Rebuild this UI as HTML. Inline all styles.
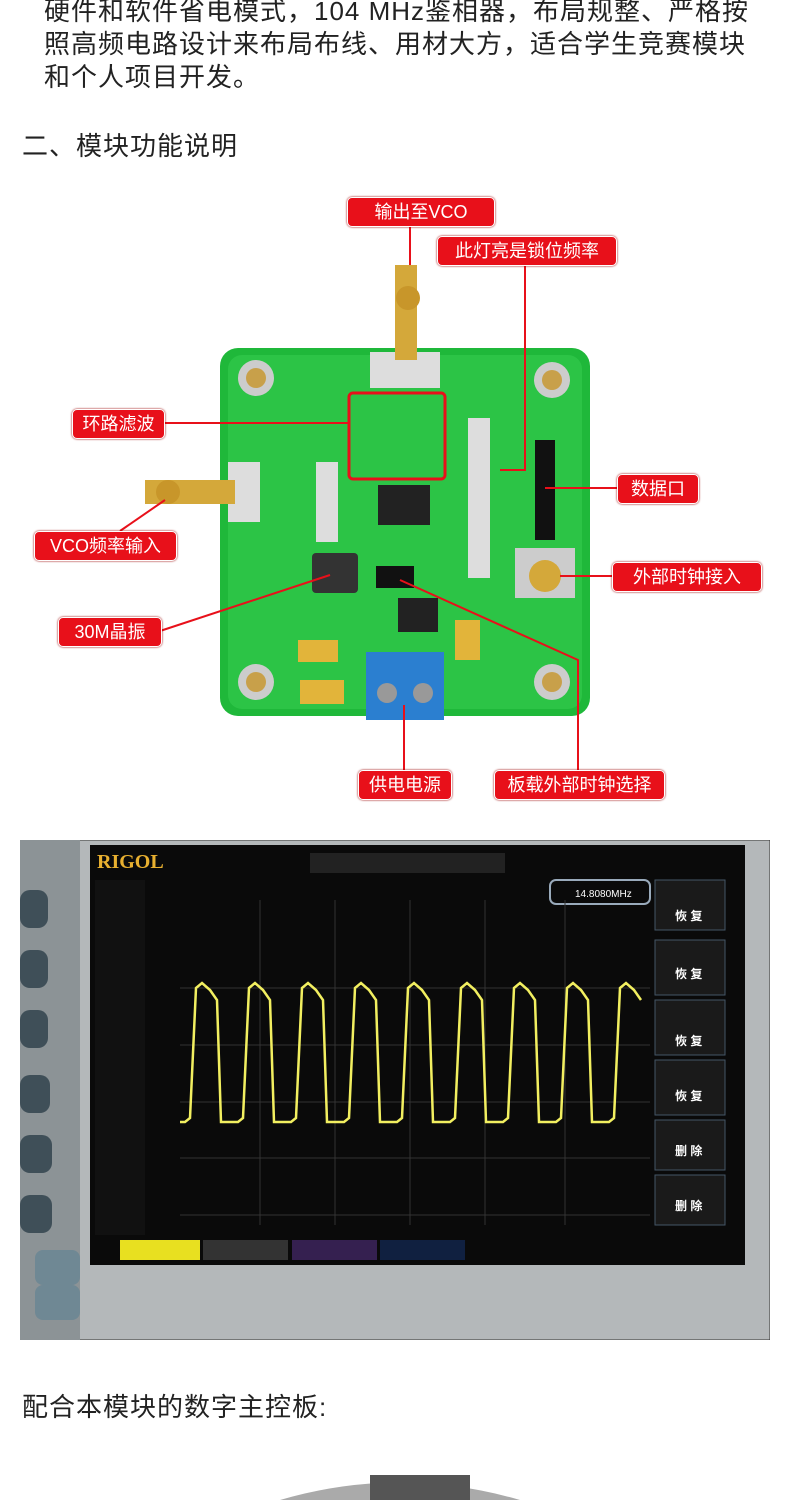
<!DOCTYPE html>
<html><head><meta charset="utf-8"><style>
body{margin:0;width:790px;height:1500px;background:#fff;overflow:hidden;position:relative;font-family:"Liberation Sans","Noto Sans CJK SC",sans-serif;}
.t{position:absolute;font-size:26px;color:#222;white-space:nowrap;letter-spacing:1px}
.lb{position:absolute;background:#e8101a;color:#fff;font-size:18px;border-radius:5px;text-align:center;line-height:28px;height:28px;border:1px solid #fff;box-shadow:0 0 2px #900}
</style></head><body>
<div class="t" style="left:44px;top:-9px">硬件和软件省电模式，104 MHz鉴相器，布局规整、严格按</div>
<div class="t" style="left:44px;top:24px">照高频电路设计来布局布线、用材大方，适合学生竞赛模块</div>
<div class="t" style="left:44px;top:57px">和个人项目开发。</div>
<div class="t" style="left:22px;top:126px">二、模块功能说明</div>

<svg style="position:absolute;left:0;top:180px" width="790" height="640">
<g transform="translate(0,-180)">
<rect x="220" y="348" width="370" height="368" rx="18" fill="#1fb83a"/>
<rect x="228" y="355" width="354" height="354" rx="14" fill="#2cc446"/>
<circle cx="256" cy="378" r="18" fill="#ccc"/><circle cx="256" cy="378" r="10" fill="#c8a04a"/>
<circle cx="552" cy="380" r="18" fill="#ccc"/><circle cx="552" cy="380" r="10" fill="#c8a04a"/>
<circle cx="256" cy="682" r="18" fill="#ccc"/><circle cx="256" cy="682" r="10" fill="#c8a04a"/>
<circle cx="552" cy="682" r="18" fill="#ccc"/><circle cx="552" cy="682" r="10" fill="#c8a04a"/>
<rect x="370" y="352" width="70" height="36" fill="#ddd"/>
<rect x="395" y="265" width="22" height="95" fill="#d4a83a"/>
<circle cx="408" cy="298" r="12" fill="#c8962a"/>
<rect x="228" y="462" width="32" height="60" fill="#ddd"/>
<rect x="145" y="480" width="90" height="24" fill="#d4a83a"/>
<circle cx="168" cy="492" r="12" fill="#c8962a"/>
<rect x="515" y="548" width="60" height="50" fill="#ccc"/>
<circle cx="545" cy="576" r="16" fill="#d4a83a"/>
<rect x="378" y="485" width="52" height="40" fill="#222"/>
<rect x="312" y="553" width="46" height="40" rx="4" fill="#333"/>
<rect x="376" y="566" width="38" height="22" fill="#111"/>
<rect x="398" y="598" width="40" height="34" fill="#222"/>
<rect x="366" y="652" width="78" height="68" fill="#2b7fd0"/>
<circle cx="387" cy="693" r="10" fill="#999"/><circle cx="423" cy="693" r="10" fill="#999"/>
<rect x="298" y="640" width="40" height="22" fill="#e2b43a"/>
<rect x="300" y="680" width="44" height="24" fill="#e2b43a"/>
<rect x="455" y="620" width="25" height="40" fill="#e2b43a"/>
<rect x="535" y="440" width="20" height="100" fill="#111"/>
<g fill="#ddd"><rect x="316" y="462" width="22" height="80"/><rect x="468" y="418" width="22" height="160"/></g>
<rect x="349" y="393" width="96" height="86" rx="4" fill="none" stroke="#e8101a" stroke-width="3"/>
<g stroke="#e8101a" stroke-width="2" fill="none">
<line x1="410" y1="225" x2="410" y2="265"/>
<polyline points="525,264 525,470 500,470"/>
<line x1="163" y1="423" x2="349" y2="423"/>
<line x1="617" y1="488" x2="545" y2="488"/>
<line x1="120" y1="531" x2="165" y2="500"/>
<line x1="612" y1="576" x2="560" y2="576"/>
<line x1="160" y1="631" x2="330" y2="575"/>
<line x1="404" y1="770" x2="404" y2="705"/>
<polyline points="578,770 578,660 400,580"/>
</g>
</g></svg>
<div class="lb" style="left:347px;top:197px;width:146px">输出至VCO</div>
<div class="lb" style="left:437px;top:236px;width:178px">此灯亮是锁位频率</div>
<div class="lb" style="left:72px;top:409px;width:91px">环路滤波</div>
<div class="lb" style="left:617px;top:474px;width:80px">数据口</div>
<div class="lb" style="left:34px;top:531px;width:141px">VCO频率输入</div>
<div class="lb" style="left:612px;top:562px;width:148px">外部时钟接入</div>
<div class="lb" style="left:58px;top:617px;width:102px">30M晶振</div>
<div class="lb" style="left:358px;top:770px;width:92px">供电电源</div>
<div class="lb" style="left:494px;top:770px;width:169px">板载外部时钟选择</div>

<svg style="position:absolute;left:20px;top:840px" width="750" height="500">
<rect width="750" height="500" fill="#b4b8ba" stroke="#333"/>
<rect x="0" y="0" width="60" height="500" fill="#8c9396"/>
<g fill="#3f4f58"><rect x="0" y="50" width="28" height="38" rx="10"/><rect x="0" y="110" width="28" height="38" rx="10"/><rect x="0" y="170" width="28" height="38" rx="10"/><rect x="0" y="235" width="30" height="38" rx="10"/><rect x="0" y="295" width="32" height="38" rx="10"/><rect x="0" y="355" width="32" height="38" rx="10"/></g>
<rect x="15" y="410" width="45" height="35" rx="8" fill="#6f8894"/><rect x="15" y="445" width="45" height="35" rx="8" fill="#6f8894"/>
<rect x="70" y="5" width="655" height="420" fill="#0a0a0a"/>
<text x="77" y="28" font-family="Liberation Serif" font-weight="bold" font-size="20" fill="#e8b030">RIGOL</text>
<rect x="290" y="13" width="195" height="20" fill="#222"/>
<rect x="530" y="40" width="100" height="24" rx="6" fill="none" stroke="#9ab" stroke-width="2"/>
<text x="555" y="57" font-size="10" fill="#fff">14.8080MHz</text>
<g stroke="#333" stroke-width="1">
<line x1="160" y1="148" x2="630" y2="148"/><line x1="160" y1="205" x2="630" y2="205"/><line x1="160" y1="262" x2="630" y2="262"/><line x1="160" y1="318" x2="630" y2="318"/><line x1="160" y1="375" x2="630" y2="375"/>
<line x1="240" y1="60" x2="240" y2="385"/><line x1="315" y1="60" x2="315" y2="385"/><line x1="390" y1="60" x2="390" y2="385"/><line x1="465" y1="60" x2="465" y2="385"/><line x1="545" y1="60" x2="545" y2="385"/>
</g>
<path fill="none" stroke="#f2ef60" stroke-width="2.5" d="M160,282 L165,282 L170,278 L176,148 L182,143 L190,150 L197,160 L201,282 L205,282 L218,282 L223,278 L229,148 L235,143 L243,150 L250,160 L254,282 L271,282 L276,278 L282,148 L288,143 L296,150 L303,160 L307,282 L324,282 L329,278 L335,148 L341,143 L349,150 L356,160 L360,282 L377,282 L382,278 L388,148 L394,143 L402,150 L409,160 L413,282 L430,282 L435,278 L441,148 L447,143 L455,150 L462,160 L466,282 L483,282 L488,278 L494,148 L500,143 L508,150 L515,160 L519,282 L536,282 L541,278 L547,148 L553,143 L561,150 L568,160 L572,282 L589,282 L594,278 L600,148 L606,143 L614,150 L621,160"/>
<rect x="75" y="40" width="50" height="355" fill="#111"/>
<g fill="#1a1a1a" stroke="#456"><rect x="635" y="40" width="70" height="50"/><rect x="635" y="100" width="70" height="55"/><rect x="635" y="160" width="70" height="55"/><rect x="635" y="220" width="70" height="55"/><rect x="635" y="280" width="70" height="50"/><rect x="635" y="335" width="70" height="50"/></g>
<g fill="#fff" font-size="12" font-weight="bold"><text x="655" y="80">恢 复</text><text x="655" y="138">恢 复</text><text x="655" y="205">恢 复</text><text x="655" y="260">恢 复</text><text x="655" y="315">删 除</text><text x="655" y="370">删 除</text></g>
<rect x="100" y="400" width="80" height="20" fill="#e8e020"/><rect x="183" y="400" width="85" height="20" fill="#333"/><rect x="272" y="400" width="85" height="20" fill="#352050"/><rect x="360" y="400" width="85" height="20" fill="#102040"/>
</svg>

<div class="t" style="left:22px;top:1387px">配合本模块的数字主控板:</div>
<svg style="position:absolute;left:0;top:1460px" width="790" height="40"><path d="M280,40 Q400,5 520,40Z" fill="#aaa"/><rect x="370" y="15" width="100" height="25" fill="#555"/></svg>
</body></html>
